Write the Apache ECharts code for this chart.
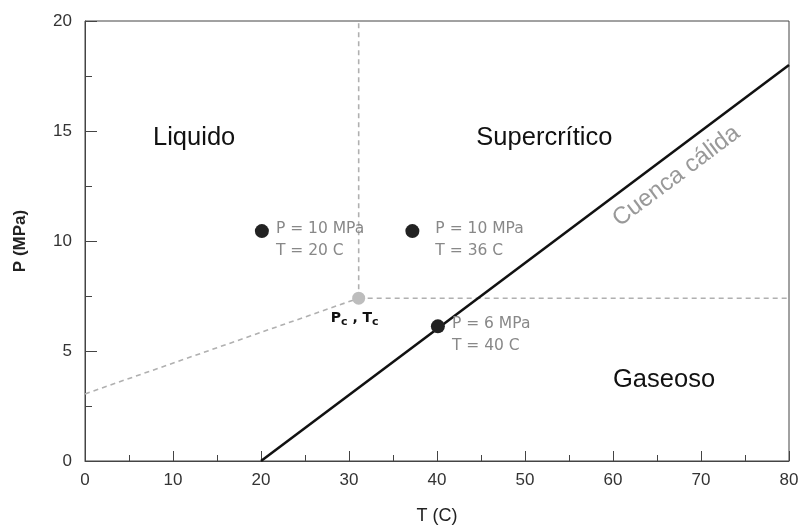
<!DOCTYPE html>
<html><head><meta charset="utf-8">
<script src="https://cdn.jsdelivr.net/npm/echarts@6/dist/echarts.min.js"></script>
<style>html,body{margin:0;padding:0;background:#fff}#c{width:801px;height:525px}</style>
</head><body><div id="c"></div>
<script>
// Data
const curveLine = [[20, 0], [80, 18]];                 // Cuenca cálida
const critical = [31.1, 7.4];
const boundaryLeft = [[0, 3.05], critical];
const boundaryVert = [critical, [31.1, 20]];
const boundaryHoriz = [critical, [80, 7.4]];
const pointsT = [20.1, 37.2, 40.1];
const pointsP = [10.45, 10.45, 6.12];
const pointLabels = ['P = 10 MPa\nT = 20 C', 'P = 10 MPa\nT = 36 C', 'P = 6 MPa\nT = 40 C'];
const regionNames = ['Liquido', 'Supercrítico', 'Gaseoso'];
const regionPos = [[12.4, 14.7], [52.2, 14.7], [65.8, 3.7]];
const xTicks = [0, 10, 20, 30, 40, 50, 60, 70, 80];
const yTicks = [0, 5, 10, 15, 20];

const chart = echarts.init(document.getElementById('c'));
const dashStyle = {color: '#b0b0b0', width: 1.6, type: [5, 4]};
const ptLabelOffsets = [[7, 9], [16, 9], [7, 9]];

chart.setOption({
  animation: false,
  grid: {left: 85, right: 12, top: 21, bottom: 64, show: true, borderColor: '#444', borderWidth: 1,
         containLabel: false, outerBoundsMode: 'none'},
  xAxis: {
    type: 'value', min: 0, max: 80, interval: 10,
    name: 'T (C)', nameLocation: 'middle', nameGap: 46,
    nameTextStyle: {fontFamily: 'Liberation Sans', fontSize: 18, color: '#222'},
    axisLine: {lineStyle: {color: '#444'}},
    axisTick: {inside: true, length: 10, lineStyle: {color: '#444'}},
    minorTick: {show: true, splitNumber: 2, length: 6, lineStyle: {color: '#444'}},
    axisLabel: {fontFamily: 'Liberation Sans', fontSize: 17, color: '#333', margin: 11},
    splitLine: {show: false}
  },
  yAxis: {
    type: 'value', min: 0, max: 20, interval: 5,
    name: 'P (MPa)', nameLocation: 'middle', nameGap: 56,
    nameTextStyle: {fontFamily: 'Liberation Sans', fontSize: 17, fontWeight: 'bold', color: '#222'},
    axisLine: {lineStyle: {color: '#444'}},
    axisTick: {inside: true, length: 12, lineStyle: {color: '#444'}},
    minorTick: {show: true, splitNumber: 2, length: 7, lineStyle: {color: '#444'}},
    axisLabel: {fontFamily: 'Liberation Sans', fontSize: 17, color: '#333', margin: 13},
    splitLine: {show: false}
  },
  series: [
    {type: 'line', data: boundaryLeft, symbol: 'none', lineStyle: dashStyle, z: 2},
    {type: 'line', data: boundaryVert, symbol: 'none', lineStyle: dashStyle, z: 2},
    {type: 'line', data: boundaryHoriz, symbol: 'none', lineStyle: dashStyle, z: 2},
    {type: 'line', data: curveLine, symbol: 'none', lineStyle: {color: '#111', width: 2.6}, z: 3},
    {type: 'scatter', data: [critical], symbolSize: 13, itemStyle: {color: '#bdbdbd', opacity: 1}, z: 4,
     label: {show: true, position: 'bottom', offset: [-4, -1],
       formatter: '{a|P}{s|c}{a| , T}{s|c}',
       rich: {a: {fontFamily: 'DejaVu Sans', fontSize: 14, fontWeight: 'bold', color: '#111'},
              s: {fontFamily: 'DejaVu Sans', fontSize: 11, fontWeight: 'bold', color: '#111', verticalAlign: 'bottom', padding: [8, 0, 0, 0]}}}},
    {type: 'scatter', symbolSize: 14, itemStyle: {color: '#222', opacity: 1}, z: 5,
     data: pointsT.map((t, i) => ({value: [t, pointsP[i]],
       label: {show: true, position: 'right', distance: 0, offset: ptLabelOffsets[i], formatter: pointLabels[i]}})),
     label: {fontFamily: 'DejaVu Sans', fontSize: 15.5, color: '#888', lineHeight: 22, align: 'left'}},
    {type: 'scatter', symbolSize: 0, silent: true, z: 6, itemStyle: {opacity: 1},
     data: regionNames.map((n, i) => ({value: regionPos[i], name: n})),
     label: {show: true, position: 'inside', formatter: '{b}', fontFamily: 'Liberation Sans', fontSize: 25.5, color: '#111'}},
    {type: 'scatter', symbolSize: 0, silent: true, z: 6, itemStyle: {opacity: 1},
     data: [{value: [67.2, 12.95], name: 'Cuenca cálida'}],
     label: {show: true, position: 'inside', formatter: '{b}', rotate: 36.8, fontFamily: 'Liberation Sans', fontSize: 24, color: '#999'}}
  ]
});
</script></body></html>
